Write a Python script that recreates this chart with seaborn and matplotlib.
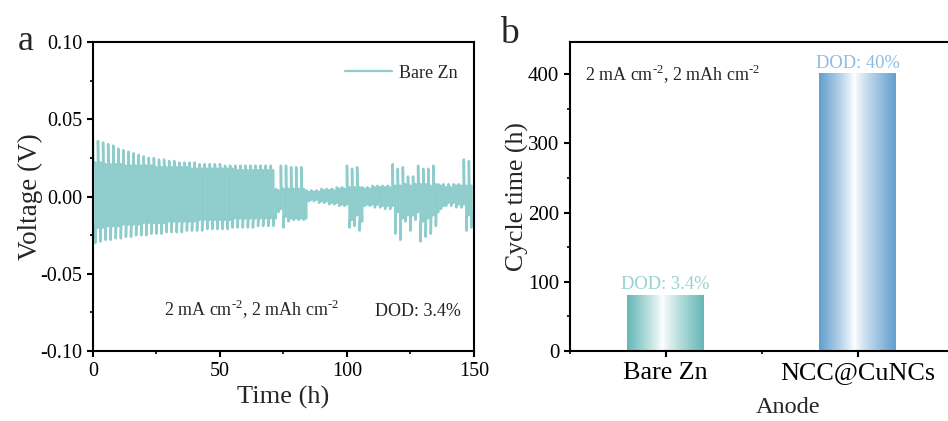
import numpy as np
import matplotlib
matplotlib.use("Agg")
import matplotlib.pyplot as plt
import seaborn as sns
from matplotlib.ticker import MultipleLocator
from matplotlib.colors import LinearSegmentedColormap

# === Data ===
# Bare Zn symmetric cell, 2 mA cm-2 / 2 mAh cm-2 -> one cycle = 2 h
# per cycle: spike at start of each half, then plateau
up_peak = [0.038, 0.036, 0.035, 0.034, 0.033, 0.031, 0.030, 0.029, 0.028, 0.027,
           0.026, 0.025, 0.025, 0.024, 0.024, 0.023, 0.023, 0.022, 0.022, 0.022,
           0.022, 0.021, 0.021, 0.021, 0.021, 0.021, 0.020, 0.020, 0.020, 0.020,
           0.020, 0.020, 0.020, 0.020, 0.020, 0.020,
           0.005, 0.020, 0.020, 0.019, 0.019, 0.019,
           0.004, 0.004, 0.004, 0.005, 0.005, 0.005, 0.006, 0.006,
           0.020, 0.018, 0.019,
           0.006, 0.006, 0.007, 0.007, 0.007, 0.007,
           0.021, 0.018, 0.019, 0.013, 0.013, 0.020, 0.018, 0.018, 0.020, 0.008,
           0.008, 0.008, 0.008, 0.008,
           0.024, 0.023]
up_plat = [0.022, 0.022, 0.021, 0.021, 0.021, 0.021, 0.020, 0.020, 0.020, 0.020,
           0.020, 0.020, 0.019, 0.019, 0.019, 0.019, 0.019, 0.019, 0.019, 0.018,
           0.018, 0.018, 0.018, 0.018, 0.018, 0.018, 0.018, 0.018, 0.017, 0.017,
           0.017, 0.017, 0.017, 0.017, 0.017, 0.017,
           0.004, 0.005, 0.005, 0.005, 0.005, 0.005,
           0.003, 0.003, 0.003, 0.004, 0.004, 0.004, 0.005, 0.005,
           0.006, 0.006, 0.006,
           0.005, 0.005, 0.006, 0.006, 0.006, 0.006,
           0.007, 0.007, 0.008, 0.007, 0.008, 0.008, 0.008, 0.007, 0.008, 0.007,
           0.006, 0.006, 0.007, 0.007,
           0.007, 0.007]
lo_peak = [-0.030, -0.029, -0.028, -0.028, -0.027, -0.027, -0.026, -0.026, -0.025, -0.025,
           -0.025, -0.024, -0.024, -0.024, -0.023, -0.023, -0.023, -0.023, -0.022, -0.022,
           -0.022, -0.022, -0.021, -0.021, -0.021, -0.021, -0.021, -0.020, -0.020, -0.020,
           -0.020, -0.020, -0.019, -0.019, -0.019, -0.019,
           -0.010, -0.020, -0.016, -0.015, -0.015, -0.015,
           -0.003, -0.003, -0.004, -0.004, -0.005, -0.005, -0.006, -0.006,
           -0.020, -0.019, -0.022,
           -0.006, -0.006, -0.007, -0.007, -0.008, -0.008,
           -0.024, -0.028, -0.016, -0.022, -0.015, -0.029, -0.026, -0.024, -0.019, -0.008,
           -0.006, -0.006, -0.007, -0.007,
           -0.022, -0.020]
lo_plat = [-0.020, -0.020, -0.019, -0.019, -0.019, -0.018, -0.018, -0.018, -0.018, -0.017,
           -0.017, -0.017, -0.017, -0.017, -0.016, -0.016, -0.016, -0.016, -0.016, -0.016,
           -0.015, -0.015, -0.015, -0.015, -0.015, -0.015, -0.015, -0.014, -0.014, -0.014,
           -0.014, -0.014, -0.014, -0.014, -0.014, -0.014,
           -0.008, -0.013, -0.014, -0.014, -0.014, -0.014,
           -0.002, -0.002, -0.003, -0.003, -0.004, -0.004, -0.005, -0.005,
           -0.015, -0.012, -0.016,
           -0.005, -0.005, -0.005, -0.006, -0.006, -0.006,
           -0.010, -0.014, -0.012, -0.012, -0.010, -0.016, -0.014, -0.012, -0.010, -0.006,
           -0.004, -0.004, -0.005, -0.005,
           -0.012, -0.010]

anodes = ["Bare Zn", "NCC@CuNCs"]
cycle_time = [80, 400]
dod_labels = ["DOD: 3.4%", "DOD: 40%"]

# build the galvanostatic trace from the per-cycle values
t, v = [], []
for k in range(len(up_peak)):
    t0 = 2 * k
    t += [t0, t0 + 0.12, t0 + 1, t0 + 1, t0 + 1.12, t0 + 2]
    v += [up_peak[k], up_plat[k], up_plat[k], lo_peak[k], lo_plat[k], lo_plat[k]]

# === Style ===
sns.set_style("ticks")
plt.rcParams['font.family'] = ['Liberation Serif', 'DejaVu Serif']
plt.rcParams['mathtext.fontset'] = 'custom'
plt.rcParams['mathtext.rm'] = 'Liberation Serif'
plt.rcParams['axes.linewidth'] = 1.5
plt.rcParams['axes.edgecolor'] = 'black'
for ax_ in ('xtick', 'ytick'):
    plt.rcParams[f'{ax_}.major.width'] = 1.5
    plt.rcParams[f'{ax_}.minor.width'] = 1.2
    plt.rcParams[f'{ax_}.major.size'] = 4
    plt.rcParams[f'{ax_}.minor.size'] = 2.5
    plt.rcParams[f'{ax_}.direction'] = 'out'
    plt.rcParams[f'{ax_}.color'] = 'black'

line_color = '#8ecdcb'
teal_edge = '#66b8b7'
blue_edge = '#629fcf'
cond = r"2 mA cm$^{\mathrm{\text{-}2}}$, 2 mAh cm$^{\mathrm{\text{-}2}}$"

fig = plt.figure(figsize=(9.48, 4.21), dpi=100)
ax1 = fig.add_axes([0.098, 0.166, 0.402, 0.734])
ax2 = fig.add_axes([0.601, 0.166, 0.405, 0.734])

# === (a) voltage profile ===
sns.lineplot(x=t, y=v, estimator=None, sort=False, color=line_color,
             lw=1.8, ax=ax1, label="Bare Zn")
ax1.set_xlim(0, 150)
ax1.set_ylim(-0.1, 0.1)
ax1.set_xticks([0, 50, 100, 150])
ax1.set_yticks([-0.10, -0.05, 0.00, 0.05, 0.10])
ax1.set_yticklabels(["-0.10", "-0.05", "0.00", "0.05", "0.10"])
ax1.xaxis.set_minor_locator(MultipleLocator(25))
ax1.yaxis.set_minor_locator(MultipleLocator(0.025))
ax1.tick_params(labelsize=14.5, colors='black')
ax1.set_xlabel("Time (h)", fontsize=19)
ax1.set_ylabel("Voltage (V)", fontsize=19.5, labelpad=-2)
leg = ax1.legend(loc='upper right', frameon=False, fontsize=13,
                 handlelength=2.6, handletextpad=0.4, bbox_to_anchor=(1.0, 0.98))
for h in leg.get_lines():
    h.set_linewidth(1.6)
ax1.text(28, -0.077, cond, fontsize=13, va='baseline')
ax1.text(111, -0.077, "DOD: 3.4%", fontsize=13, va='baseline')

# === (b) cycle time bars with gradient fill ===
sns.barplot(x=anodes, y=cycle_time, width=0.4, ax=ax2, color='white')
edges = [teal_edge, blue_edge]
text_colors = ['#97d2d1', '#8cbce2']
xs = np.linspace(0, 1, 256)
dist = np.where(xs < 0.46, (0.46 - xs) / 0.46, (xs - 0.46) / 0.54) ** 0.85
for patch, edge, lab, tc in zip(ax2.patches, edges, dod_labels, text_colors):
    x0, w, h = patch.get_x(), patch.get_width(), patch.get_height()
    cmap = LinearSegmentedColormap.from_list("g", ["white", edge])
    ax2.imshow(dist[np.newaxis, :], cmap=cmap, vmin=0, vmax=1, aspect='auto',
               extent=[x0, x0 + w, 0, h], zorder=2)
    patch.set_visible(False)
    ax2.text(x0 + w / 2, h + 9, lab, color=tc, fontsize=13.3, ha='center', va='baseline')
ax2.set_xlim(-0.5, 1.5)
ax2.set_ylim(0, 446)
ax2.set_yticks([0, 100, 200, 300, 400])
ax2.yaxis.set_minor_locator(MultipleLocator(50))
ax2.xaxis.set_minor_locator(MultipleLocator(0.5))
ax2.tick_params(axis='y', labelsize=15, colors='black')
ax2.tick_params(axis='x', labelsize=18.8, colors='black')
ax2.set_xlabel("Anode", fontsize=17.5)
ax2.xaxis.set_label_coords(0.568, -0.148)
ax2.set_ylabel("Cycle time (h)", fontsize=18.5, labelpad=-1)
ax2.text(-0.42, 391, cond, fontsize=13, va='baseline')

fig.text(0.019, 0.882, "a", fontsize=26, va='baseline')
fig.text(0.527, 0.898, "b", fontsize=27, va='baseline')

fig.savefig("out.png", dpi=100)
